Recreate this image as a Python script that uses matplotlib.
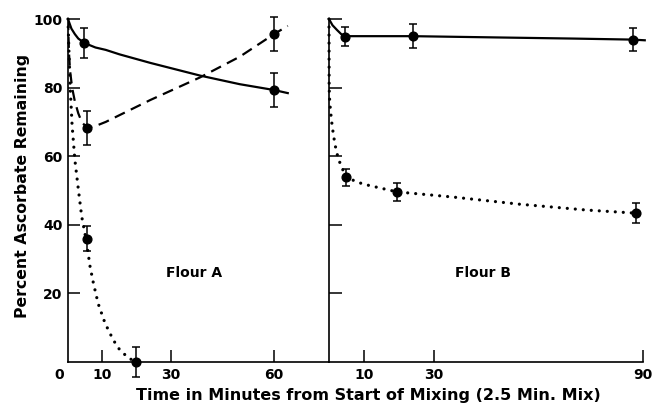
import matplotlib
matplotlib.use('Agg')
import matplotlib.pyplot as plt
from matplotlib.transforms import ScaledTranslation

plt.rcParams['font.family'] = 'DejaVu Sans'
plt.rcParams['font.weight'] = 'bold'

# -> Flour A, measured points (minutes, percent, error)
a_solid_t = [4.8, 60]
a_solid_v = [93, 79.3]
a_solid_err = [4.5, 5]
a_dash_t = [5.5, 60]
a_dash_v = [68.3, 95.6]
a_dash_err = [5, 5]
a_dot_t = [5.4, 19.8]
a_dot_v = [36, 0]
a_dot_err = [3.7, 4.5]

# -> Flour A, fitted curves
a_solid_curve_t = [0, 1, 2, 3, 4.8, 8, 11, 15, 24, 38.5, 50, 60, 64]
a_solid_curve_v = [100, 97.2, 95.6, 94.3, 93, 91.7, 91, 89.7, 87.2, 83.5, 81, 79.3, 78.4]
a_dash_curve_t = [0, 0.3, 0.6, 1.2, 2, 3, 4, 5.5, 8, 11, 24, 38.5, 50, 60, 64]
a_dash_curve_v = [100, 90, 85, 80, 76, 72.5, 70, 68.3, 68.8, 70, 76.4, 83, 89, 95.6, 98]
a_dot_curve_t = [0, 0.3, 0.7, 1.2, 2.0, 3.0, 4.0, 5.4, 6.4, 7.4, 8.8, 10.8, 13.2, 15.1, 17.6, 19.8]
a_dot_curve_v = [100, 90, 79, 69, 59, 50.5, 42.4, 35, 28, 23, 17, 11.3, 6.4, 3.5, 1.2, 0]

# -> Flour B, measured points
b_solid_t = [4.6, 24, 87]
b_solid_v = [94.8, 95, 94]
b_solid_err = [2.8, 3.5, 3.3]
b_dot_t = [4.9, 19.5, 88]
b_dot_v = [53.8, 49.6, 43.4]
b_dot_err = [2.4, 2.7, 2.9]

# -> Flour B, fitted curves
b_solid_curve_t = [0, 1, 2.3, 3.5, 4.6, 8, 24, 50, 70, 87, 90.5]
b_solid_curve_v = [100, 98.2, 96.8, 95.6, 95, 95, 95, 94.6, 94.3, 94, 93.8]
b_dot_curve_t = [0, 0.05, 0.2, 0.5, 0.95, 1.7, 2.6, 3.4, 4.9, 9.7, 19.5, 35.5, 54.7, 73.9, 88, 90]
b_dot_curve_v = [100, 80, 76, 72.6, 68.5, 63.5, 59.5, 57.4, 53.8, 51.9, 49.6, 48.1, 46, 44.3, 43.4, 43.1]

a_xticks = [0, 10, 30, 60]
b_xticks = [10, 30, 90]
yticks = [20, 40, 60, 80, 100]

DOTS = (0, (0.01, 2.5))
DASHES = (0, (5.0, 3.0))

fig = plt.figure(figsize=(6.53, 4.09), dpi=100)
axA = fig.add_axes([0.1041, 0.1149, 0.3997, 0.8386])
axB = fig.add_axes([0.5038, 0.1149, 0.4809, 0.8386])


def points(ax, t, v, err):
    c = ax.errorbar(t, v, yerr=err, fmt='o', color='black', ms=6.3,
                    capsize=3.2, elinewidth=1.1, capthick=1.1, zorder=5)
    for art in c.get_children():
        art.set_clip_on(False)


def style(ax, xmax, xticks, ticklen):
    ax.set_xlim(0, xmax)
    ax.set_ylim(0, 100)
    for side in ['top', 'right']:
        ax.spines[side].set_visible(False)
    for side in ['left', 'bottom']:
        ax.spines[side].set_linewidth(1.2)
    ax.set_xticks(xticks)
    ax.set_yticks(yticks)
    ax.tick_params(direction='in', length=ticklen, width=1.1, labelsize=10, pad=4)


# Flour A
axA.plot(a_solid_curve_t, a_solid_curve_v, color='black', lw=1.6)
axA.plot(a_dash_curve_t, a_dash_curve_v, color='black', lw=1.6, linestyle=DASHES)
axA.plot(a_dot_curve_t, a_dot_curve_v, color='black', lw=2.3, linestyle=DOTS,
         dash_capstyle='round', clip_on=False)
points(axA, a_solid_t, a_solid_v, a_solid_err)
points(axA, a_dash_t, a_dash_v, a_dash_err)
points(axA, a_dot_t, a_dot_v, a_dot_err)
style(axA, 76, a_xticks, 8.5)
axA.set_xticklabels([str(t) for t in a_xticks])
axA.set_yticklabels([str(v) for v in yticks])
# zero label sits left of the origin, no tick mark
axA.xaxis.get_major_ticks()[0].tick1line.set_visible(False)
zero = axA.get_xticklabels()[0]
zero.set_transform(zero.get_transform() + ScaledTranslation(-0.085, 0, fig.dpi_scale_trans))
axA.text(36.8, 26, 'Flour A', fontsize=10, ha='center', va='center')

# Flour B
axB.plot(b_solid_curve_t, b_solid_curve_v, color='black', lw=1.6, clip_on=False)
axB.plot(b_dot_curve_t, b_dot_curve_v, color='black', lw=2.3, linestyle=DOTS,
         dash_capstyle='round', clip_on=False)
points(axB, b_solid_t, b_solid_v, b_solid_err)
points(axB, b_dot_t, b_dot_v, b_dot_err)
style(axB, 90, b_xticks, 9)
axB.set_xticklabels([str(t) for t in b_xticks])
axB.set_yticklabels([])
axB.text(44, 26, 'Flour B', fontsize=10, ha='center', va='center')

fig.text(0.0337, 0.545, 'Percent Ascorbate Remaining', rotation=90,
         fontsize=11.3, ha='center', va='center')
fig.text(0.5636, 0.0342, 'Time in Minutes from Start of Mixing (2.5 Min. Mix)',
         fontsize=11.5, ha='center', va='center')

fig.savefig('out.png', dpi=100)
